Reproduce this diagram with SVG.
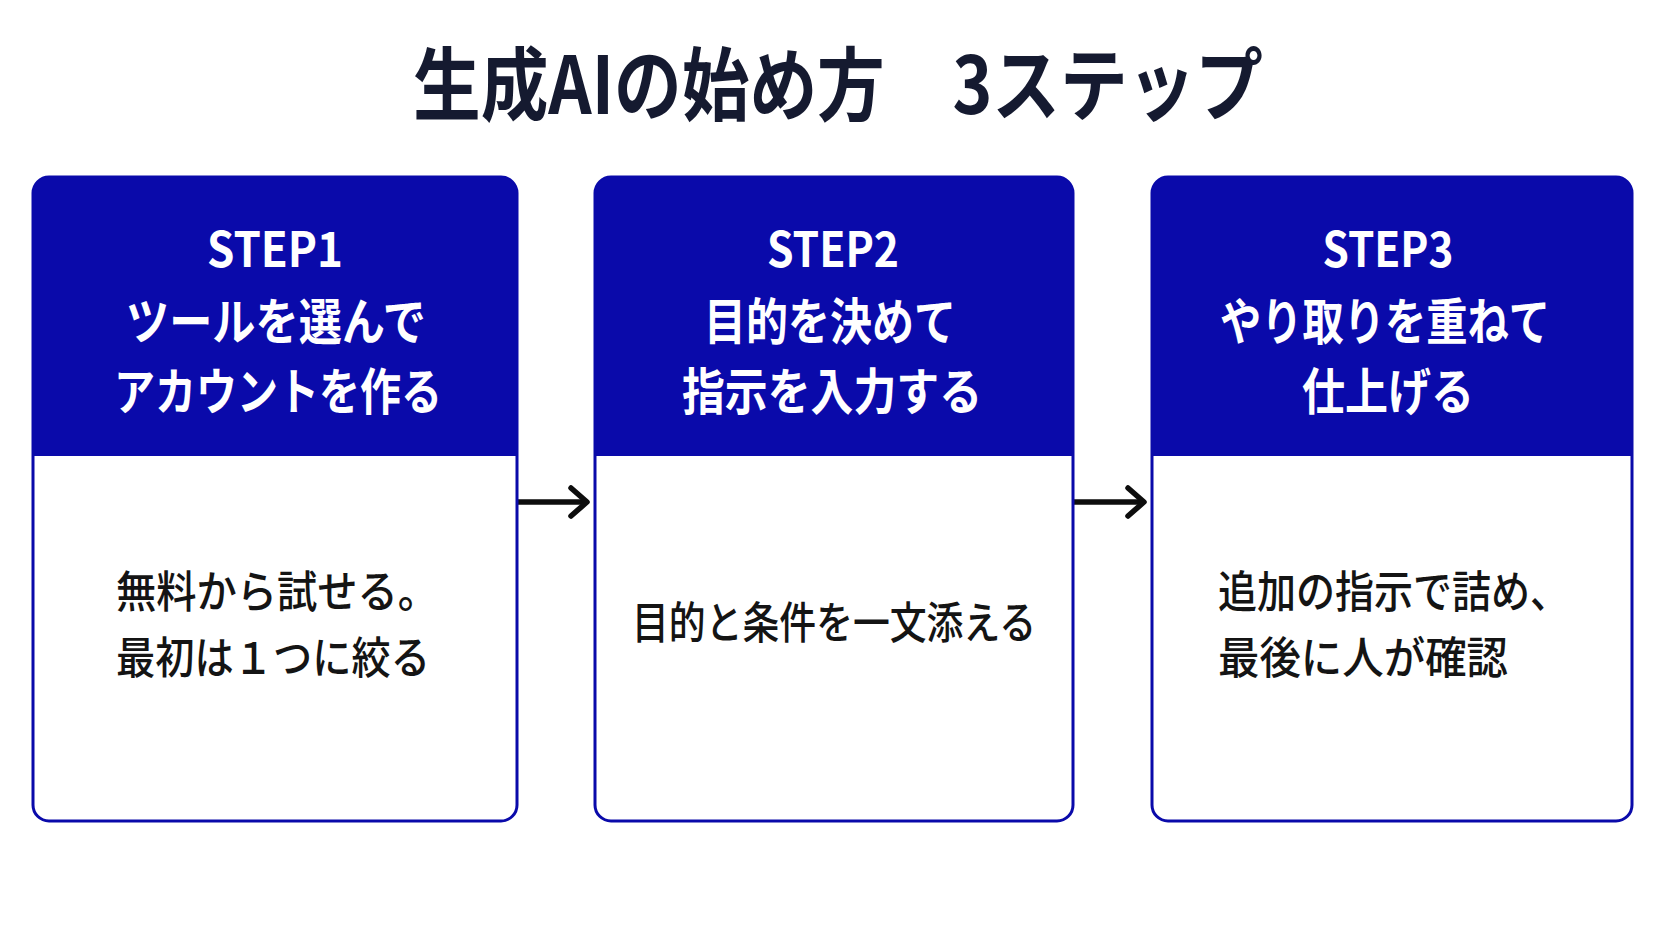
<svg xmlns="http://www.w3.org/2000/svg" width="1672" height="941" viewBox="0 0 1672 941">
  <defs>
    <style>
      .title { font-family: "Noto Sans CJK JP", "Noto Sans", sans-serif; font-weight: 700; font-size: 80px; fill: #151a30; }
      .card { fill: #ffffff; stroke: #0a0aaa; stroke-width: 3; }
      .head { fill: #0a0aaa; }
      .step { font-family: "Noto Sans CJK JP", "Noto Sans", sans-serif; font-weight: 700; font-size: 48px; fill: #ffffff; }
      .htxt { font-family: "Noto Sans CJK JP", sans-serif; font-weight: 700; font-size: 50px; fill: #ffffff; }
      .btxt { font-family: "Noto Sans CJK JP", sans-serif; font-weight: 500; font-size: 44px; fill: #141414; }
      .conn { stroke: #0d0d0d; stroke-width: 5.5; fill: none; stroke-linecap: butt; }
    </style>
    <marker id="chev" markerUnits="userSpaceOnUse" markerWidth="34" markerHeight="44" refX="24" refY="22" orient="auto">
      <polyline points="8,8 24,22 8,36" fill="none" stroke="#0d0d0d" stroke-width="5.5" stroke-linecap="round" stroke-linejoin="round"/>
    </marker>
  </defs>
  <rect width="1672" height="941" fill="#ffffff"/>
  <text class="title" x="838" y="114" text-anchor="middle" textLength="850" lengthAdjust="spacingAndGlyphs">生成AIの始め方　3ステップ</text>

  <g id="connectors">
    <line class="conn" x1="517" y1="502" x2="587" y2="502" marker-end="url(#chev)"/>
    <line class="conn" x1="1074" y1="502" x2="1144" y2="502" marker-end="url(#chev)"/>
  </g>

  <g id="step1">
    <rect class="card" x="33" y="177" width="484" height="644" rx="16"/>
    <path class="head" d="M33,193 A16,16 0 0 1 49,177 L501,177 A16,16 0 0 1 517,193 L517,456 L33,456 Z"/>
    <text class="step" x="275" y="267" text-anchor="middle" textLength="136" lengthAdjust="spacingAndGlyphs">STEP1</text>
    <text class="htxt" x="276" y="340" text-anchor="middle" textLength="300" lengthAdjust="spacingAndGlyphs">ツールを選んで</text>
    <text class="htxt" x="278" y="410" text-anchor="middle" textLength="328" lengthAdjust="spacingAndGlyphs">アカウントを作る</text>
    <text class="btxt" x="116" y="608" textLength="322" lengthAdjust="spacingAndGlyphs">無料から試せる。</text>
    <text class="btxt" x="116" y="674" textLength="314" lengthAdjust="spacingAndGlyphs">最初は１つに絞る</text>
  </g>

  <g id="step2">
    <rect class="card" x="595" y="177" width="478" height="644" rx="16"/>
    <path class="head" d="M595,193 A16,16 0 0 1 611,177 L1057,177 A16,16 0 0 1 1073,193 L1073,456 L595,456 Z"/>
    <text class="step" x="833" y="267" text-anchor="middle" textLength="132" lengthAdjust="spacingAndGlyphs">STEP2</text>
    <text class="htxt" x="830" y="340" text-anchor="middle" textLength="252" lengthAdjust="spacingAndGlyphs">目的を決めて</text>
    <text class="htxt" x="832" y="410" text-anchor="middle" textLength="300" lengthAdjust="spacingAndGlyphs">指示を入力する</text>
    <text class="btxt" x="834" y="639" text-anchor="middle" textLength="404" lengthAdjust="spacingAndGlyphs">目的と条件を一文添える</text>
  </g>

  <g id="step3">
    <rect class="card" x="1152" y="177" width="480" height="644" rx="16"/>
    <path class="head" d="M1152,193 A16,16 0 0 1 1168,177 L1616,177 A16,16 0 0 1 1632,193 L1632,456 L1152,456 Z"/>
    <text class="step" x="1388" y="267" text-anchor="middle" textLength="131" lengthAdjust="spacingAndGlyphs">STEP3</text>
    <text class="htxt" x="1385" y="340" text-anchor="middle" textLength="330" lengthAdjust="spacingAndGlyphs">やり取りを重ねて</text>
    <text class="htxt" x="1388" y="410" text-anchor="middle" textLength="172" lengthAdjust="spacingAndGlyphs">仕上げる</text>
    <text class="btxt" x="1218" y="608" textLength="351" lengthAdjust="spacingAndGlyphs">追加の指示で詰め、</text>
    <text class="btxt" x="1218" y="674" textLength="290" lengthAdjust="spacingAndGlyphs">最後に人が確認</text>
  </g>
</svg>
